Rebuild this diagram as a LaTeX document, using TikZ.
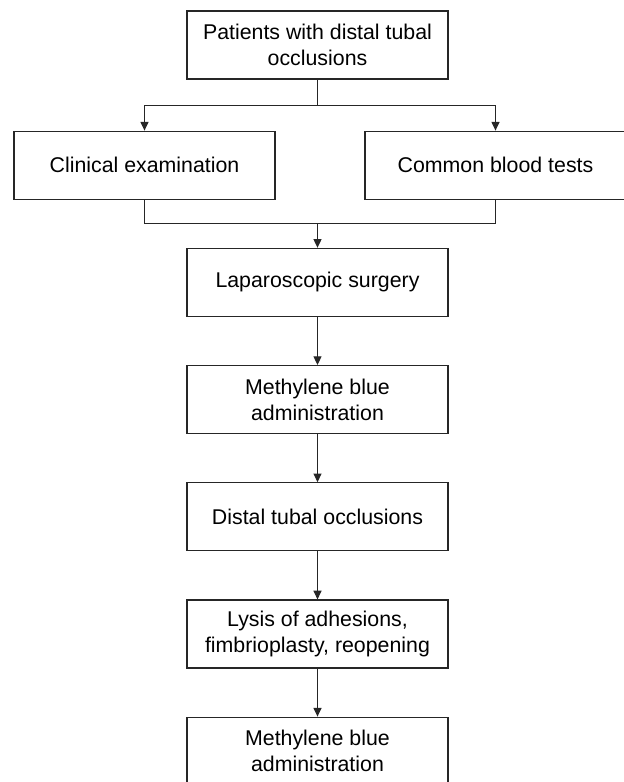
\documentclass[tikz,border=0pt]{standalone}
\usepackage{fontspec}
\setmainfont{Liberation Sans}
\usetikzlibrary{arrows.meta,positioning,calc}
\definecolor{flowline}{HTML}{262626}

\begin{document}
\begin{tikzpicture}[
    x=0.75pt,y=0.75pt,
    font=\fontsize{16}{19.3}\selectfont,
    node distance=36pt,
    stage/.style={draw=flowline,line width=0.9pt,minimum width=195.75pt,minimum height=51pt,align=center,inner sep=2pt},
    link/.style={line width=0.8pt,draw=flowline},
    arr/.style={link,-{Triangle[length=6.5pt,width=6pt]}}
  ]
    \useasboundingbox (0,0) rectangle (624,-782);
    \node[stage] (patients) at (317.5,-45) {Patients with distal tubal\\occlusions};
    \node[stage,below=38.25pt of patients,xshift=-129.75pt] (clinical) {Clinical examination};
    \node[stage,below=38.25pt of patients,xshift=133.5pt] (blood) {Common blood tests};
    \coordinate (mid) at (patients |- clinical.south);
    \node[stage,below=of mid] (lap) {Laparoscopic surgery};
    \node[stage,below=of lap] (blue1) {Methylene blue\\administration};
    \node[stage,below=of blue1] (distal) {Distal tubal occlusions};
    \node[stage,below=of distal] (lysis) {Lysis of adhesions,\\fimbrioplasty, reopening};
    \node[stage,below=of lysis] (blue2) {Methylene blue\\administration};

    \coordinate (fork) at ($(patients.south)!0.5!(patients.south |- clinical.north)$);
    \coordinate (merge) at ($(mid)!0.5!(lap.north)$);
    \draw[arr] (patients.south) -- (fork) -| (clinical.north);
    \draw[arr] (fork) -| (blood.north);
    \draw[link] (clinical.south) |- (merge) -| (blood.south);
    \draw[arr] (merge) -- (lap.north);
    \draw[arr] (lap.south) -- (blue1.north);
    \draw[arr] (blue1.south) -- (distal.north);
    \draw[arr] (distal.south) -- (lysis.north);
    \draw[arr] (lysis.south) -- (blue2.north);
  \end{tikzpicture}
\end{document}
